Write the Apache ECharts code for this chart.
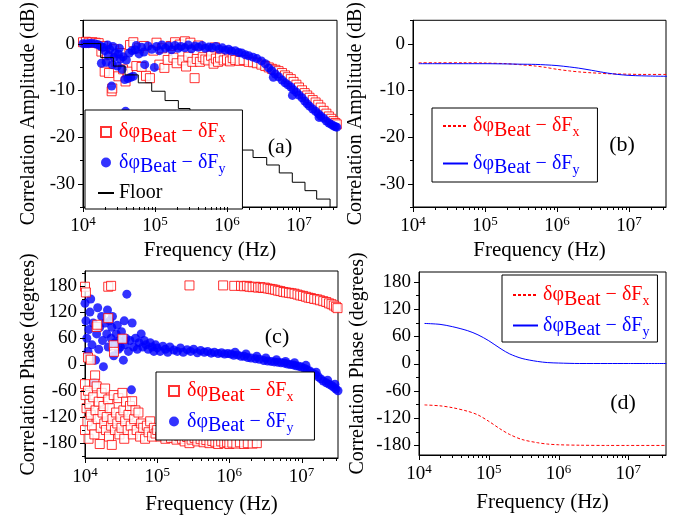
<!DOCTYPE html>
<html>
<head>
<meta charset="utf-8">
<script src="https://cdn.jsdelivr.net/npm/echarts@6/dist/echarts.min.js"></script>
<style>
  html, body { margin: 0; padding: 0; background: #fff; }
  #main { width: 687px; height: 516px; }
</style>
</head>
<body>
<div id="main"></div>
<script>
var FONT = 'Liberation Serif';
var RED = '#ff0000';
var BLUE = '#0000ff';

// tick labels
var decades = [1e4, 1e5, 1e6, 1e7];
var minorMult = [2, 3, 4, 5, 6, 7, 8, 9];
var ampTicks = [-30, -20, -10, 0];
var ampMinor = [-35, -25, -15, -5, 5];
var phaseTicks = [-180, -120, -60, 0, 60, 120, 180];
var phaseMinor = [-210, -150, -90, -30, 30, 90, 150, 210];

// (a) measured correlation amplitude, [Hz, dB]
var ampFx = [[1.0e4,0.3],[1.1e4,0.4],[1.2e4,0.2],[1.35e4,0.3],[1.5e4,0.2],[1.65e4,0.1],[1.8e4,-1.7],[1.9e4,-0.5],
  [2.0e4,-6.0],[2.15e4,-2.5],[2.3e4,-6.3],[2.5e4,-10.2],[2.55e4,-9.6],[2.7e4,-1.2],[2.9e4,-4.0],[3.1e4,-7.0],
  [3.3e4,-2.0],[3.6e4,-5.5],[3.9e4,-8.1],[4.2e4,-6.0],[4.5e4,-0.3],[5.0e4,0.3],[5.5e4,-4.8],[6.0e4,-1.0],
  [6.5e4,-5.0],[7.0e4,-0.5],[7.5e4,-6.9],[8.5e4,-7.4],[9.5e4,-1.5],[1.05e5,0.2],[1.15e5,-4.5],[1.25e5,-1.0],
  [1.35e5,-5.2],[1.5e5,-3.5],[1.65e5,-0.5],[1.8e5,-3.0],[1.9e5,0.3],[2.0e5,-4.2],[2.2e5,-0.2],[2.4e5,-3.6],
  [2.6e5,0.5],[2.7e5,-4.9],[2.9e5,-2.8],[3.1e5,0.2],[3.3e5,-3.9],[3.55e5,-7.4],[3.8e5,-3.3],[4.0e5,-0.4],
  [4.2e5,-3.9],[4.6e5,-2.9],[5.0e5,-3.4],[5.5e5,-3.6],[6.0e5,-2.6],[6.5e5,-4.3],[6.8e5,-0.8],[7.0e5,-3.2],
  [7.5e5,-3.9],[8.0e5,-3.0],[9.0e5,-3.6],[1.0e6,-3.4],[1.1e6,-3.8],[1.2e6,-3.1],[1.3e6,-3.5],[1.5e6,-3.7],
  [1.7e6,-3.5],[2.0e6,-3.9],[2.3e6,-4.0],[2.6e6,-4.2],[3.0e6,-4.5],[3.4e6,-4.8],[3.8e6,-5.1],[4.2e6,-5.4],
  [4.7e6,-5.6],[5.2e6,-5.9],[5.8e6,-6.3],[6.4e6,-6.8],[7.0e6,-7.2],[7.7e6,-7.6],[8.4e6,-8.2],[9.2e6,-8.8],
  [1.0e7,-9.4],[1.1e7,-10.0],[1.2e7,-10.6],[1.3e7,-11.1],[1.4e7,-11.6],[1.55e7,-12.1],[1.7e7,-12.6],
  [1.85e7,-13.1],[2.0e7,-13.7],[2.2e7,-14.4],[2.4e7,-15.0],[2.6e7,-15.6],[2.8e7,-16.1],[3.0e7,-16.6],
  [3.2e7,-17.0],[3.35e7,-17.3]];
var ampFy = [[1.0e4,0],[1.1e4,0],[1.2e4,0],[1.3e4,0.1],[1.45e4,0],[1.6e4,-0.2],[1.75e4,-0.5],[1.8e4,-4.2],
  [1.9e4,-0.8],[2.0e4,-1.5],[2.1e4,-4.0],[2.2e4,-0.3],[2.25e4,-2.5],[2.35e4,-1.2],[2.5e4,-9.1],[2.55e4,-4.5],
  [2.6e4,-0.6],[2.7e4,-3.0],[2.8e4,-2.0],[3.0e4,-4.8],[3.1e4,-2.2],[3.2e4,-1.0],[3.3e4,-3.3],[3.5e4,-5.5],
  [3.6e4,-2.8],[3.8e4,-7.7],[3.9e4,-14.5],[4.0e4,-3.5],[4.2e4,-7.5],[4.4e4,-2.0],[4.6e4,-7.2],[4.8e4,-1.5],
  [5.0e4,-7.0],[5.3e4,-1.3],[5.5e4,-0.4],[6.0e4,-2.2],[6.5e4,-0.8],[7.0e4,-1.8],[7.2e4,-4.5],[8.0e4,-0.5],
  [9.0e4,-1.2],[9.8e4,-5.1],[1.05e5,-0.6],[1.15e5,-1.5],[1.25e5,-0.3],[1.4e5,-1.0],[1.55e5,-0.5],[1.7e5,-1.3],
  [1.9e5,-0.4],[2.1e5,-1.0],[2.3e5,-0.6],[2.6e5,-0.9],[2.9e5,-0.3],[3.2e5,-1.1],[3.6e5,-0.5],[4.0e5,-0.8],
  [4.5e5,-0.4],[5.0e5,-1.0],[5.6e5,-0.7],[6.2e5,-0.9],[7.0e5,-0.6],[7.8e5,-1.2],[8.6e5,-0.9],[9.5e5,-1.4],
  [1.05e6,-1.2],[1.15e6,-1.6],[1.3e6,-1.5],[1.45e6,-1.9],[1.6e6,-2.0],[1.8e6,-2.4],[2.0e6,-2.6],[2.3e6,-2.9],
  [2.6e6,-3.2],[3.0e6,-3.7],[3.4e6,-4.3],[3.8e6,-5.2],[4.2e6,-5.8],[4.4e6,-7.2],[4.7e6,-6.5],[5.2e6,-7.1],
  [5.8e6,-7.8],[6.4e6,-8.4],[7.0e6,-8.8],[7.7e6,-9.3],[8.1e6,-11.1],[8.4e6,-9.9],[9.2e6,-10.4],[1.0e7,-11.0],
  [1.1e7,-11.6],[1.2e7,-12.3],[1.3e7,-12.9],[1.4e7,-13.4],[1.55e7,-14.0],[1.7e7,-14.5],[1.85e7,-15.0],
  [1.9e7,-15.8],[2.0e7,-15.5],[2.2e7,-16.0],[2.4e7,-16.6],[2.6e7,-17.0],[2.8e7,-17.3],[3.0e7,-17.6],
  [3.2e7,-17.8],[3.35e7,-17.9]];
// noise floor, level changes at each frequency
var floorF = [1e4, 1.76e4, 2.64e4, 3.83e4, 5.86e4, 9.0e4, 1.38e5, 2.11e5, 3.06e5, 4.64e5, 7.03e5, 1.07e6,
  1.56e6, 2.30e6, 3.56e6, 5.32e6, 8.07e6, 1.21e7, 1.76e7, 2.70e7, 3.4e7];
var floorDb = [0, -3, -4.8, -6.7, -8.4, -10.2, -12.2, -13.9, -15.7, -17.5, -19.3, -21.1,
  -22.8, -24.4, -26, -27.7, -29.7, -31.5, -33.3, -37, -37];

// (b) model amplitude
var modelAmpF = [1.2e4, 2e4, 5e4, 1e5, 2e5, 3e5, 5e5, 7e5, 1e6, 1.5e6, 2e6, 3e6, 4e6, 5e6, 7e6, 1e7, 1.5e7, 2e7, 3.4e7];
var modelAmpX = [-4.1, -4.1, -4.1, -4.15, -4.3, -4.5, -4.8, -5.1, -5.5, -5.85, -6.05, -6.25, -6.35, -6.45, -6.5, -6.55, -6.6, -6.6, -6.6];
var modelAmpY = [-4.3, -4.3, -4.3, -4.3, -4.35, -4.4, -4.45, -4.55, -4.7, -5.0, -5.25, -5.7, -6.05, -6.3, -6.6, -6.8, -6.9, -6.95, -7.0];

// (c) measured correlation phase, [Hz, degrees]
var phaseFx = [[1.0e4,178],[1.03e4,165],[2.1e4,178],[2.3e4,180],[2.8e5,181],[8.2e5,181],[1.17e6,180],
  [1.45e6,180],[1.6e6,179],[1.75e6,180],[1.9e6,178],[2.1e6,177],[2.3e6,178],[2.5e6,176],[2.7e6,177],
  [2.9e6,175],[3.1e6,176],[3.4e6,174],[3.7e6,173],[4.0e6,172],[4.3e6,171],[4.7e6,169],[5.1e6,168],
  [5.6e6,166],[6.1e6,165],[6.7e6,164],[7.3e6,163],[8.0e6,162],[8.8e6,160],[9.6e6,158],[1.05e7,157],
  [1.15e7,155],[1.25e7,153],[1.35e7,152],[1.5e7,150],[1.65e7,149],[1.8e7,147],[2.0e7,145],[2.2e7,143],
  [2.4e7,140],[2.6e7,138],[2.8e7,135],[3.0e7,132],[3.15e7,129],
  [1.45e4,86],[1.48e4,91],[2.1e4,106],[2.5e4,44],[2.52e4,29],[3.3e4,59],[1.1e4,16],[1.2e4,11],
  [1.38e4,-25],[1.35e4,-44],
  [1.0e4,-45],[1.0e4,-150],[1.02e4,-70],[1.05e4,-100],[1.08e4,-130],[1.1e4,-60],[1.12e4,-170],[1.15e4,-90],
  [1.2e4,-115],[1.25e4,-140],[1.3e4,-75],[1.35e4,-160],[1.4e4,-105],[1.45e4,-50],[1.5e4,-125],[1.55e4,-85],
  [1.6e4,-182],[1.65e4,-145],[1.7e4,-65],[1.75e4,-110],[1.8e4,-95],[1.85e4,-135],[1.9e4,-55],[1.95e4,-150],
  [2.0e4,-120],[2.1e4,-80],[2.15e4,-165],[2.2e4,-100],[2.3e4,-140],[2.35e4,-184],[2.4e4,-125],[2.5e4,-70],
  [2.6e4,-150],[2.7e4,-110],[2.8e4,-135],[2.9e4,-77],[3.0e4,-160],[3.1e4,-120],[3.2e4,-145],[3.3e4,-65],
  [3.4e4,-105],[3.5e4,-170],[3.6e4,-130],[3.7e4,-85],[3.9e4,-150],[4.0e4,-115],[4.2e4,-95],[4.3e4,-140],
  [4.5e4,-84],[4.6e4,-160],[4.8e4,-125],[5.0e4,-105],[5.2e4,-150],[5.5e4,-110],[5.8e4,-165],[6.0e4,-135],
  [6.4e4,-145],[6.8e4,-170],[7.2e4,-140],[7.6e4,-155],[8.0e4,-130],[8.5e4,-165],[9.0e4,-145],[9.5e4,-158],
  [1.0e5,-150],[1.1e5,-165],[1.2e5,-155],[1.3e5,-170],[1.4e5,-160],[1.55e5,-168],[1.7e5,-158],[1.85e5,-172],
  [2.0e5,-163],[2.2e5,-170],[2.4e5,-176],[2.6e5,-166],[2.8e5,-180],[3.0e5,-172],[3.3e5,-168],[3.6e5,-176],
  [4.0e5,-171],[4.4e5,-178],[4.8e5,-173],[5.3e5,-180],[5.8e5,-175],[6.4e5,-178],[7.0e5,-182],[7.7e5,-176],
  [8.5e5,-180],[9.3e5,-178],[1.0e6,-182],[1.1e6,-179],[1.25e6,-181],[1.4e6,-178],[1.6e6,-182],[1.8e6,-180],
  [2.1e6,-181],[2.4e6,-180]];
var phaseFy = [[1.0e4,140],[1.03e4,100],[1.06e4,60],[1.1e4,30],[1.13e4,80],[1.17e4,120],[1.2e4,150],
  [1.25e4,45],[1.3e4,95],[1.35e4,-41],[1.4e4,10],[1.45e4,70],[1.5e4,130],[1.55e4,35],[1.6e4,85],[1.7e4,110],
  [1.75e4,55],[1.8e4,-5],[1.9e4,95],[2.0e4,70],[2.05e4,125],[2.1e4,40],[2.2e4,100],[2.3e4,60],[2.35e4,85],
  [2.4e4,110],[2.5e4,20],[2.6e4,50],[2.7e4,70],[2.8e4,90],[2.9e4,35],[3.0e4,55],[3.1e4,40],[3.2e4,75],
  [3.4e4,10],[3.5e4,100],[3.6e4,45],[3.7e4,60],[3.8e4,161],[4.0e4,30],[4.2e4,55],[4.4e4,-58],[4.5e4,95],
  [4.7e4,40],[5.0e4,60],[5.3e4,35],[5.6e4,50],[6.0e4,70],[6.3e4,40],[6.6e4,55],[7.0e4,45],[7.5e4,35],
  [8.0e4,50],[8.5e4,40],[9.0e4,30],[9.5e4,45],[1.0e5,38],[1.1e5,30],[1.2e5,42],[1.3e5,35],[1.4e5,28],
  [1.5e5,40],[1.7e5,33],[1.9e5,30],[2.1e5,38],[2.3e5,28],[2.6e5,34],[2.9e5,30],[3.2e5,35],[3.6e5,27],
  [4.0e5,32],[4.5e5,28],[5.0e5,30],[5.6e5,26],[6.2e5,28],[7.0e5,25],[7.8e5,27],[8.6e5,24],[9.5e5,25],
  [1.05e6,24],[1.15e6,21],[1.3e6,22],[1.45e6,19],[1.6e6,19],[1.8e6,16],[2.0e6,15],[2.3e6,13],[2.6e6,12],
  [3.0e6,9],[3.4e6,8],[3.8e6,7],[4.2e6,6],[4.7e6,5],[5.2e6,4],[5.8e6,3],[6.4e6,1],[7.0e6,0],[7.7e6,-1],
  [8.4e6,-3],[9.2e6,-4],[1.0e7,-6],[1.1e7,-9],[1.2e7,-12],[1.3e7,-15],[1.4e7,-19],[1.55e7,-23],[1.7e7,-28],
  [1.85e7,-33],[2.0e7,-38],[2.2e7,-42],[2.4e7,-45],[2.6e7,-48],[2.8e7,-52],[3.0e7,-56],[3.2e7,-60],
  [1.2e6,28],[1.7e6,24],[2.4e6,19],[3.2e6,15],[4.5e6,11],[6.0e6,7],[8.0e6,4],[1.15e7,-2],[1.6e7,-18],
  [2.3e7,-36],[2.9e7,-45]];

// (d) model phase
var modelPhF = [1.2e4, 2e4, 3e4, 5e4, 7e4, 1e5, 1.5e5, 2e5, 3e5, 5e5, 7e5, 1e6, 2e6, 5e6, 1e7, 3.5e7];
var modelPhX = [-91, -93, -97, -105, -113, -127, -145, -156, -167, -174, -177, -178.5, -179.5, -180, -180, -180];
var modelPhY = [88, 86, 81, 72, 63, 50, 32, 21, 11, 4.5, 2, 1, 0, 0, 0, 0];

function zip(xs, ys) {
  return xs.map(function (x, i) { return [x, ys[i]]; });
}

var panels = [
  { left: 83, top: 19, width: 254, height: 188 },
  { left: 413, top: 19, width: 253, height: 188 },
  { left: 85, top: 271, width: 253, height: 189 },
  { left: 419, top: 272, width: 247, height: 183 }
];
var xMax = [3.37e7, 3.27e7, 3.2e7, 3.47e7];
var yRange = [[-35, 5], [-35, 5], [-214, 214], [-201, 201]];
var xNameGap = [33, 33, 36, 37];
var yNameGap = [44, 47, 45, 51];

var minorX = [];
decades.forEach(function (d) {
  minorMult.forEach(function (m) { minorX.push(d * m); });
});

var blackLine = { show: true, onZero: false, lineStyle: { color: '#000', width: 1 } };

var grids = panels.map(function (g) {
  return Object.assign({ show: true, borderColor: '#000', borderWidth: 1, backgroundColor: 'transparent' }, g);
});

var xAxis = [], yAxis = [];
panels.forEach(function (g, i) {
  var amp = i < 2;
  xAxis.push({
    type: 'log', gridIndex: i, min: 1e4, max: xMax[i],
    name: 'Frequency (Hz)', nameLocation: 'middle', nameGap: xNameGap[i],
    nameTextStyle: { fontFamily: FONT, fontSize: 21, color: '#000' },
    axisLine: blackLine,
    axisTick: { show: false },
    axisLabel: {
      customValues: decades, margin: 8, color: '#000', fontFamily: FONT, fontSize: 19,
      formatter: function (v) { return '10{s|' + Math.round(Math.log10(v)) + '}'; },
      rich: { s: { fontFamily: FONT, fontSize: 13, color: '#000', padding: [0, 0, 10, 0] } }
    },
    splitLine: { show: false }
  });
  yAxis.push({
    type: 'value', gridIndex: i, min: yRange[i][0], max: yRange[i][1],
    name: amp ? 'Correlation Amplitude (dB)' : 'Correlation Phase (degrees)',
    nameLocation: 'middle', nameGap: yNameGap[i],
    nameTextStyle: { fontFamily: FONT, fontSize: 20, color: '#000' },
    axisLine: blackLine,
    axisTick: { show: false },
    axisLabel: {
      customValues: amp ? ampTicks : phaseTicks, margin: 8, color: '#000',
      fontFamily: FONT, fontSize: 19
    },
    splitLine: { show: false }
  });
});

// tick marks drawn through each panel's own axes: [value, length in px]
function tickRows(majors, minors, lo, hi) {
  var rows = [];
  majors.forEach(function (v) { if (v >= lo && v <= hi) rows.push([v, 5]); });
  minors.forEach(function (v) { if (v >= lo && v <= hi) rows.push([v, 3]); });
  return rows;
}
function xTickSeries(i) {
  var yMin = yRange[i][0];
  return {
    type: 'custom', xAxisIndex: i, yAxisIndex: i, silent: true, clip: false, z: 5,
    data: tickRows(decades, minorX, 1e4, xMax[i]),
    renderItem: function (params, api) {
      var p = api.coord([api.value(0), yMin]);
      var x = Math.round(p[0]) + 0.5;
      return { type: 'line', shape: { x1: x, y1: p[1], x2: x, y2: p[1] + api.value(1) },
        style: { stroke: '#000', lineWidth: 1 } };
    }
  };
}
function yTickSeries(i) {
  var amp = i < 2;
  return {
    type: 'custom', xAxisIndex: i, yAxisIndex: i, silent: true, clip: false, z: 5,
    data: tickRows(amp ? ampTicks : phaseTicks, amp ? ampMinor : phaseMinor, yRange[i][0], yRange[i][1]).map(function (r) {
      return [1e4, r[0], r[1]];
    }),
    encode: { x: 0, y: 1 },
    renderItem: function (params, api) {
      var p = api.coord([1e4, api.value(1)]);
      var y = Math.round(p[1]) + 0.5;
      return { type: 'line', shape: { x1: p[0] - api.value(2), y1: y, x2: p[0], y2: y },
        style: { stroke: '#000', lineWidth: 1 } };
    }
  };
}

var squareStyle = { color: '#fff', borderColor: RED, borderWidth: 1 };
var series = [
  { name: 'ax', type: 'scatter', xAxisIndex: 0, yAxisIndex: 0, symbol: 'rect', symbolSize: 9,
    itemStyle: squareStyle, data: ampFx },
  { name: 'ay', type: 'scatter', xAxisIndex: 0, yAxisIndex: 0, symbol: 'circle', symbolSize: 9,
    itemStyle: { color: BLUE }, data: ampFy },
  { name: 'af', type: 'line', xAxisIndex: 0, yAxisIndex: 0, step: 'end', symbol: 'none',
    lineStyle: { color: '#000', width: 1 }, itemStyle: { color: '#000' }, data: zip(floorF, floorDb) },
  { name: 'bx', type: 'line', xAxisIndex: 1, yAxisIndex: 1, symbol: 'none', smooth: 0.3,
    lineStyle: { color: RED, width: 1, type: [3, 2] }, itemStyle: { color: RED }, data: zip(modelAmpF, modelAmpX) },
  { name: 'by', type: 'line', xAxisIndex: 1, yAxisIndex: 1, symbol: 'none', smooth: 0.3,
    lineStyle: { color: BLUE, width: 1 }, itemStyle: { color: BLUE }, data: zip(modelAmpF, modelAmpY) },
  { name: 'cy', type: 'scatter', xAxisIndex: 2, yAxisIndex: 2, symbol: 'circle', symbolSize: 9,
    itemStyle: { color: BLUE }, data: phaseFy },
  { name: 'cx', type: 'scatter', xAxisIndex: 2, yAxisIndex: 2, symbol: 'rect', symbolSize: 9,
    itemStyle: squareStyle, data: phaseFx },
  { name: 'dx', type: 'line', xAxisIndex: 3, yAxisIndex: 3, symbol: 'none', smooth: 0.3,
    lineStyle: { color: RED, width: 1, type: [3, 2] }, itemStyle: { color: RED }, data: zip(modelPhF, modelPhX) },
  { name: 'dy', type: 'line', xAxisIndex: 3, yAxisIndex: 3, symbol: 'none', smooth: 0.3,
    lineStyle: { color: BLUE, width: 1 }, itemStyle: { color: BLUE }, data: zip(modelPhF, modelPhY) }
];
for (var k = 0; k < 4; k++) {
  series.push(xTickSeries(k));
  series.push(yTickSeries(k));
}

function legendText(name) {
  var c = name.charAt(1);
  if (c === 'f') return '{k|Floor}';
  var p = c === 'x' ? 'r' : 'b';
  return '{' + p + '|δφ}{' + p + 'b|Beat}{' + p + '| − δF}{' + p + 's|' + c + '}';
}
function richFor(col, key) {
  var o = {};
  o[key] = { color: col, fontFamily: FONT, fontSize: 20 };
  o[key + 'b'] = { color: col, fontFamily: FONT, fontSize: 20, padding: [9, 0, 0, 0] };
  o[key + 's'] = { color: col, fontFamily: FONT, fontSize: 14, padding: [13, 0, 0, 0] };
  return o;
}
var rich = Object.assign({ k: { color: '#000', fontFamily: FONT, fontSize: 20 } },
  richFor(RED, 'r'), richFor(BLUE, 'b'));

var SQUARE = 'path://M0,0H10V10H0Z';
var noMark = { opacity: 0 };

function makeLegend(items, left, top, iw, gap, pad) {
  return {
    data: items, left: left, top: top, orient: 'vertical', selectedMode: false,
    itemWidth: iw, itemHeight: 10, itemGap: gap, padding: pad, symbolKeepAspect: true,
    borderColor: '#000', borderWidth: 1, backgroundColor: '#fff',
    formatter: legendText,
    textStyle: { fontFamily: FONT, fontSize: 20, rich: rich }
  };
}

var option = {
  animation: false,
  backgroundColor: '#fff',
  grid: grids,
  xAxis: xAxis,
  yAxis: yAxis,
  legend: [
    makeLegend([{ name: 'ax', icon: SQUARE }, { name: 'ay', icon: 'circle' }, { name: 'af', itemStyle: noMark }],
      85, 110, 16, 6, [12, 17, 6, 12]),
    makeLegend([{ name: 'bx', itemStyle: noMark }, { name: 'by', itemStyle: noMark }], 432, 108, 25, 13, [8, 18, 4, 10]),
    makeLegend([{ name: 'cx', icon: SQUARE }, { name: 'cy', icon: 'circle' }], 156, 372, 16, 6, [9, 21, 4, 12]),
    makeLegend([{ name: 'dx', itemStyle: noMark }, { name: 'dy', itemStyle: noMark }], 502, 275, 25, 6, [10, 8, 2, 10])
  ],
  graphic: [
    { type: 'text', x: 280, y: 147, style: { text: '(a)', font: '22px "Liberation Serif"', fill: '#000', align: 'center', verticalAlign: 'middle' } },
    { type: 'text', x: 622, y: 145, style: { text: '(b)', font: '22px "Liberation Serif"', fill: '#000', align: 'center', verticalAlign: 'middle' } },
    { type: 'text', x: 277, y: 337, style: { text: '(c)', font: '22px "Liberation Serif"', fill: '#000', align: 'center', verticalAlign: 'middle' } },
    { type: 'text', x: 623, y: 403, style: { text: '(d)', font: '22px "Liberation Serif"', fill: '#000', align: 'center', verticalAlign: 'middle' } }
  ],
  series: series
};

var chart = echarts.init(document.getElementById('main'));
chart.setOption(option);
</script>
</body>
</html>
